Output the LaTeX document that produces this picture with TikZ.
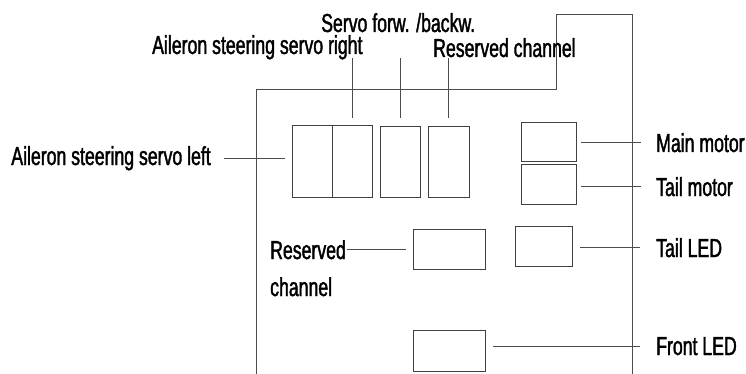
\documentclass[tikz,border=0pt]{standalone}
\usepackage{fontspec}
\setmainfont{Liberation Sans}[FakeStretch=0.68, FakeBold=1.5]
\usetikzlibrary{positioning,calc}

\begin{document}
\begin{tikzpicture}[
  x=1pt, y=-1pt,
  slot/.style={draw=black!75, line width=0.9pt, inner sep=0pt},
  tag/.style={font=\fontsize{26}{37}\selectfont, inner sep=0pt, align=left},
  leader/.style={draw=black!70, line width=0.8pt}
]
\useasboundingbox (0,0) rectangle (746,374);
\draw[leader] (256,374) -- (256,89) -- (556,89) -- (556,14) -- (632,14) -- (632,374);

\node[slot, minimum width=40, minimum height=72] (ailL) at (312,161) {};
\node[slot, minimum width=40, minimum height=72] (ailR) at (352,161) {};
\node[slot, minimum width=40, minimum height=71] (servo) at (400,161.5) {};
\node[slot, minimum width=41, minimum height=71] (resA) at (448.5,161.5) {};
\node[slot, minimum width=55, minimum height=39] (mainM) at (548.5,141.5) {};
\node[slot, minimum width=55, minimum height=40] (tailM) at (548.5,184) {};
\node[slot, minimum width=57, minimum height=40] (tailLED) at (543.5,246) {};
\node[slot, minimum width=72, minimum height=40] (resB) at (449,249) {};
\node[slot, minimum width=72, minimum height=41] (frontLED) at (449,350.5) {};

\node[tag, anchor=base east] (ailLtxt) at (211,165) {Aileron steering servo left};
\node[tag, anchor=base west] (ailRtxt) at (152,54) {Aileron steering servo right};
\node[tag, anchor=base west] (servotxt) at (321,32) {Servo forw. /backw.};
\node[tag, anchor=base west] (resAtxt) at (433,57) {Reserved channel};
\node[tag, anchor=base west] (mainMtxt) at (656,152) {Main motor};
\node[tag, anchor=base west] (tailMtxt) at (656,196) {Tail motor};
\node[tag, anchor=base west] (tailLEDtxt) at (656,257) {Tail LED};
\node[tag, anchor=base west] (frontLEDtxt) at (656,355) {Front LED};
\node[tag, anchor=north west] (resBtxt) at (270,240) {Reserved\\channel};

\draw[leader] ($(ailLtxt.east)+(13,0)$) -- ($(ailLtxt.east -| ailL.west)+(-7,0)$);
\draw[leader] ($(ailR.north)+(0,-7)$) -- ++(0,-60);
\draw[leader] ($(servo.north)+(0,-8)$) -- ++(0,-60);
\draw[leader] ($(resA.north)+(0,-8)$) -- ++(0,-60);
\draw[leader] ($(mainMtxt.west -| mainM.east)+(5,0)$) -- ($(mainMtxt.west)+(-15,0)$);
\draw[leader] ($(tailMtxt.west -| tailM.east)+(5,0)$) -- ($(tailMtxt.west)+(-15,0)$);
\draw[leader] ($(tailLEDtxt.west -| tailLED.east)+(8,0)$) -- ($(tailLEDtxt.west)+(-16,0)$);
\draw[leader] ($(frontLEDtxt.west -| frontLED.east)+(8,0)$) -- ($(frontLEDtxt.west)+(-16,0)$);
\draw[leader] ($(resB.west)+(-7,0)$) -- ++(-59,0);
\end{tikzpicture}
\end{document}
